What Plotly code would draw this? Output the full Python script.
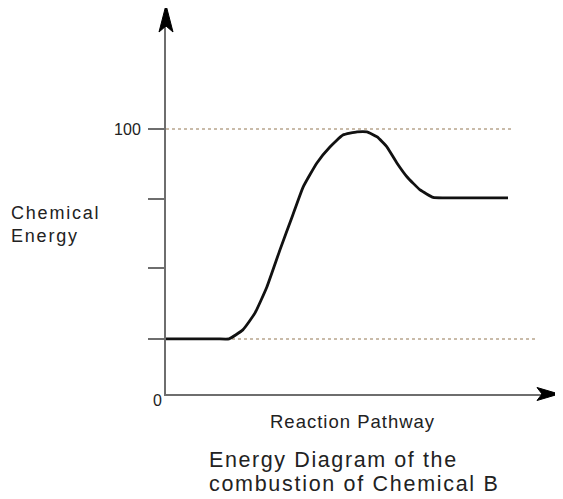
import plotly.graph_objects as go

# ---- data ----
pathway = [0, 13.0, 16.0, 19.5, 22.6, 25.6, 28.9, 32.0, 34.8, 38.3, 41.6, 44.9,
           48.5, 51.0, 53.6, 56.1, 58.6, 61.2, 64.5, 67.8, 70.5, 86.8]
energy = [20.8, 20.8, 20.8, 24.2, 30.6, 40.4, 54.3, 66.8, 78.1, 87.2, 93.2, 97.7,
          98.9, 98.9, 97.0, 93.2, 87.2, 81.9, 77.0, 74.2, 74.0, 74.0]

ref_levels = [100, 20.8]        # dotted reference lines
ref_ends = [88.1, 94.2]         # where each dotted line stops along the pathway

tick_vals = [20.8, 47.4, 73.6, 100]
tick_text = ["", "", "", "100"]

y_label_lines = ["Chemical", "Energy"]
x_label = "Reaction Pathway"
title_lines = ["Energy Diagram of the", "combustion of Chemical B"]

FONT = "Arial, Liberation Sans, Helvetica, sans-serif"
AXIS_COLOR = "#6e6e6e"
TEXT_COLOR = "#222222"


def spaced(txt, px):
    return '<span style="letter-spacing:%.1fpx">%s</span>' % (px, txt)


fig = go.Figure()

for lvl, end in zip(ref_levels, ref_ends):
    fig.add_trace(go.Scatter(
        x=[0, end], y=[lvl, lvl], mode="lines",
        line=dict(color="#b8a58d", width=1.5, dash="dot"),
        hoverinfo="skip", showlegend=False))

fig.add_trace(go.Scatter(
    x=pathway, y=energy, mode="lines",
    line=dict(color="#111111", width=2.8, shape="spline", smoothing=0.4),
    showlegend=False))

fig.update_layout(
    width=555, height=491,
    margin=dict(l=158, r=13, t=6, b=105),
    paper_bgcolor="white", plot_bgcolor="white",
    font=dict(family=FONT, color=TEXT_COLOR),
    xaxis=dict(range=[0, 97.46], showgrid=False, zeroline=False,
               showticklabels=False, ticks="", showline=True,
               linecolor=AXIS_COLOR, linewidth=2),
    yaxis=dict(range=[0, 143.4], showgrid=False, zeroline=False,
               tickvals=tick_vals, ticktext=tick_text, ticks="outside",
               ticklen=16, tickwidth=2, tickcolor=AXIS_COLOR,
               ticklabelstandoff=4,
               tickfont=dict(size=16, color=TEXT_COLOR, family=FONT),
               showline=True, linecolor=AXIS_COLOR, linewidth=2),
    shapes=[
        # y-axis arrowhead
        dict(type="path", xref="paper", yref="paper", xsizemode="pixel",
             ysizemode="pixel", xanchor=0, yanchor=1,
             path="M0,9 L7,-18 L0,-12 L-7,-18 Z",
             fillcolor="#000000", line=dict(color="#000000", width=1)),
        # x-axis arrowhead
        dict(type="path", xref="paper", yref="paper", xsizemode="pixel",
             ysizemode="pixel", xanchor=1, yanchor=0,
             path="M9,0 L-13,6.5 L-8,0 L-13,-6.5 Z",
             fillcolor="#000000", line=dict(color="#000000", width=1)),
    ],
    annotations=[
        dict(text="0", xref="paper", yref="paper", x=-0.0234, y=-0.018,
             xanchor="center", yanchor="middle", showarrow=False,
             font=dict(size=16, color=TEXT_COLOR)),
        dict(text=spaced(y_label_lines[0], 1.8), xref="paper", yref="paper",
             x=-0.408, y=0.476, xanchor="left", yanchor="middle",
             showarrow=False, font=dict(size=18, color=TEXT_COLOR)),
        dict(text=spaced(y_label_lines[1], 1.8), xref="paper", yref="paper",
             x=-0.408, y=0.415, xanchor="left", yanchor="middle",
             showarrow=False, font=dict(size=18, color=TEXT_COLOR)),
        dict(text=spaced(x_label, 1.0), xref="paper", yref="paper", x=0.265, y=-0.073,
             xanchor="left", yanchor="middle", showarrow=False,
             font=dict(size=18.5, color=TEXT_COLOR)),
        dict(text=spaced(title_lines[0], 1.6), xref="paper", yref="paper",
             x=0.106, y=-0.174, xanchor="left", yanchor="middle",
             showarrow=False, font=dict(size=21.5, color=TEXT_COLOR)),
        dict(text=spaced(title_lines[1], 1.7), xref="paper", yref="paper",
             x=0.106, y=-0.237, xanchor="left", yanchor="middle",
             showarrow=False, font=dict(size=21.5, color=TEXT_COLOR)),
    ],
)

fig.write_html("out.html")
